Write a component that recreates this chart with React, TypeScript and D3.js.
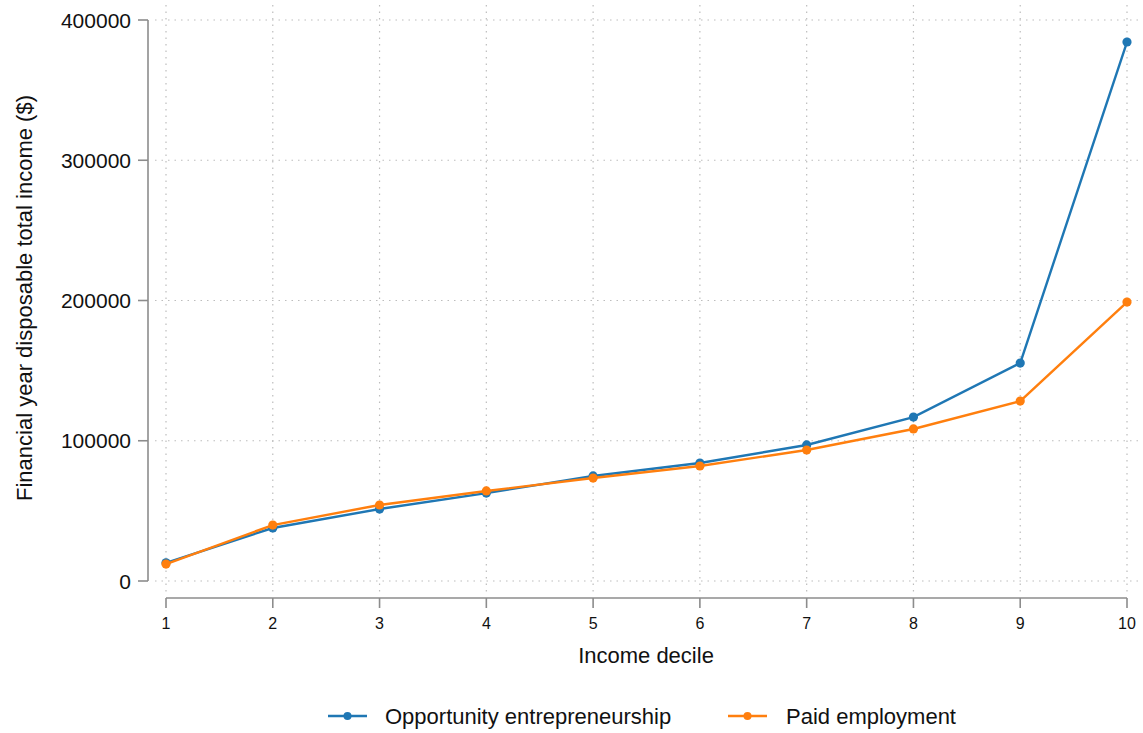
import React from "react";
import * as d3 from "d3";

const deciles = [1, 2, 3, 4, 5, 6, 7, 8, 9, 10];
const opportunity = [13000, 37800, 51300, 62700, 74900, 84100, 97000, 116900, 155400, 384300];
const paid = [12100, 39900, 54200, 64200, 73400, 82000, 93400, 108400, 128300, 198900];
const yTicks = [0, 100000, 200000, 300000, 400000];
const seriesNames = ["Opportunity entrepreneurship", "Paid employment"];
const seriesColors = ["#1f77b4", "#ff7f0e"];

const W = 1143;
const H = 733;
const FONT = "'Liberation Sans', Arial, Helvetica, sans-serif";

export default function App() {
  const x = d3.scaleLinear().domain([1, 10]).range([166, 1127]);
  const y = d3.scaleLinear().domain([0, 400000]).range([581, 20]);
  const line = d3
    .line<number>()
    .x((_, i) => x(deciles[i]))
    .y((d) => y(d));
  const series = [opportunity, paid];
  const axisColor = "#8c8c8c";
  const gridColor = "#bdbdbd";
  const legendItems = [
    { x0: 328, x1: 367, tx: 385 },
    { x0: 728, x1: 767, tx: 786 },
  ];
  return (
    <svg width={W} height={H} style={{ display: "block", position: "absolute", left: 0, top: 0, background: "#fff" }} fontFamily={FONT}>
      {/* grid */}
      {yTicks.map((t) => (
        <line key={"gy" + t} x1={155} x2={1140} y1={y(t)} y2={y(t)} stroke={gridColor} strokeWidth={1.2} strokeDasharray="1.5 5" />
      ))}
      {deciles.map((d) => (
        <line key={"gx" + d} x1={x(d)} x2={x(d)} y1={5} y2={593} stroke={gridColor} strokeWidth={1.2} strokeDasharray="1.5 5" />
      ))}
      {/* y axis */}
      <line x1={148} x2={148} y1={y(400000)} y2={y(0)} stroke={axisColor} strokeWidth={1.6} />
      {yTicks.map((t) => (
        <g key={"yt" + t}>
          <line x1={138} x2={148} y1={y(t)} y2={y(t)} stroke={axisColor} strokeWidth={1.6} />
          <text x={131} y={y(t)} dy="0.36em" textAnchor="end" fontSize={21} fill="#111">
            {t}
          </text>
        </g>
      ))}
      {/* x axis */}
      <line x1={x(1)} x2={x(10)} y1={598} y2={598} stroke={axisColor} strokeWidth={1.6} />
      {deciles.map((d) => (
        <g key={"xt" + d}>
          <line x1={x(d)} x2={x(d)} y1={598} y2={608} stroke={axisColor} strokeWidth={1.6} />
          <text x={x(d)} y={629} textAnchor="middle" fontSize={16} fill="#111">
            {d}
          </text>
        </g>
      ))}
      {/* titles */}
      <text x={646} y={663} textAnchor="middle" fontSize={22} fill="#111">
        Income decile
      </text>
      <text transform={`translate(32,298) rotate(-90)`} textAnchor="middle" fontSize={22} fill="#111">
        Financial year disposable total income ($)
      </text>
      {/* series */}
      {series.map((s, si) => (
        <g key={"s" + si}>
          <path d={line(s) || ""} fill="none" stroke={seriesColors[si]} strokeWidth={2.4} />
          {s.map((v, i) => (
            <circle key={i} cx={x(deciles[i])} cy={y(v)} r={4.6} fill={seriesColors[si]} />
          ))}
        </g>
      ))}
      {/* legend */}
      {legendItems.map((l, i) => (
        <g key={"lg" + i}>
          <line x1={l.x0} x2={l.x1} y1={716} y2={716} stroke={seriesColors[i]} strokeWidth={2.4} />
          <circle cx={(l.x0 + l.x1) / 2} cy={716} r={4} fill={seriesColors[i]} />
          <text x={l.tx} y={716} dy="0.36em" fontSize={22} fill="#111">
            {seriesNames[i]}
          </text>
        </g>
      ))}
    </svg>
  );
}
